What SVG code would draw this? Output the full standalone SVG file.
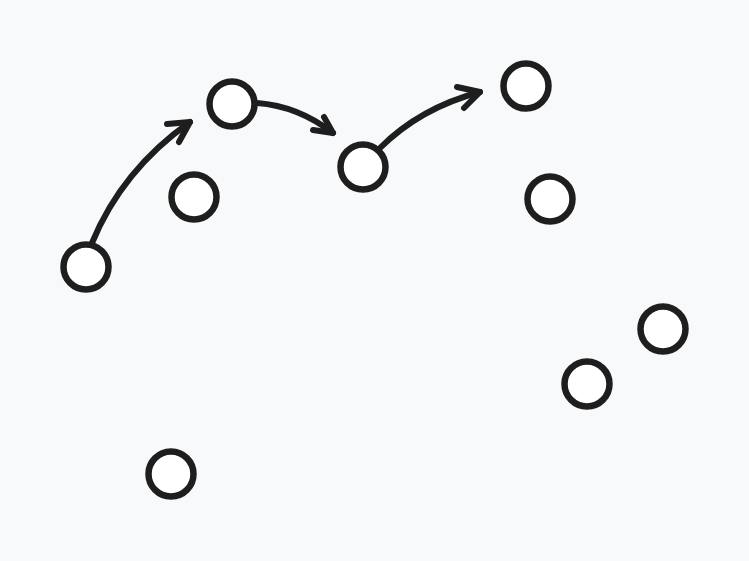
<svg xmlns="http://www.w3.org/2000/svg" width="749" height="561" viewBox="0 0 749 561">
<style>
.n{fill:#ffffff;stroke:#1e1e1e;stroke-width:6.5}
.e{fill:none;stroke:#1e1e1e;stroke-width:6;stroke-linecap:round;stroke-linejoin:round}
</style>
<rect width="749" height="561" fill="#f8f9fb"/>
<g id="connectors">
<path class="e" d="M92,243 Q122,170 190,122"/>
<path class="e" d="M167,124 L190,122 L179,142"/>
<path class="e" d="M257,103 Q298,106 333,133"/>
<path class="e" d="M324,117 L333,133 L313,130"/>
<path class="e" d="M380,148 Q420,108 480,92"/>
<path class="e" d="M457,87 L480,92 L464,108"/>
</g>
<g id="n1"><circle class="n" cx="86" cy="267" r="22.5"/></g>
<g id="n2"><circle class="n" cx="232" cy="104" r="22.5"/></g>
<g id="n3"><circle class="n" cx="194" cy="197" r="22.5"/></g>
<g id="n4"><circle class="n" cx="363" cy="167" r="22.5"/></g>
<g id="n5"><circle class="n" cx="526" cy="86" r="22.5"/></g>
<g id="n6"><circle class="n" cx="550" cy="199" r="22.5"/></g>
<g id="n7"><circle class="n" cx="663" cy="329" r="22.5"/></g>
<g id="n8"><circle class="n" cx="587" cy="384" r="22.5"/></g>
<g id="n9"><circle class="n" cx="171" cy="474" r="22.5"/></g>
</svg>
